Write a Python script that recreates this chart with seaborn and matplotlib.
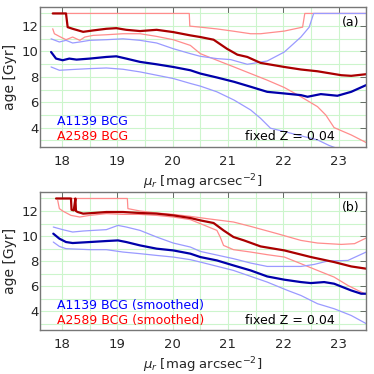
import numpy as np
import pandas as pd
import matplotlib
matplotlib.use("Agg")
import matplotlib.pyplot as plt
import seaborn as sns
from matplotlib.ticker import MultipleLocator

# ---------------- Panel (a) data ----------------
a_red_x = [17.83, 18.07, 18.10, 18.19, 18.38, 18.56, 18.80, 18.98, 19.16, 19.41, 19.71, 20.01, 20.32,
           20.50, 20.74, 20.98, 21.17, 21.35, 21.59, 22.02, 22.32, 22.62, 23.05, 23.23, 23.50]
a_red_y = [13.0, 13.0, 11.92, 11.79, 11.55, 11.66, 11.79, 11.84, 11.71, 11.61, 11.71, 11.53, 11.27,
           11.14, 10.93, 10.22, 9.75, 9.57, 9.10, 8.78, 8.58, 8.44, 8.13, 8.08, 8.21]

a_red_hi_x = [17.83, 20.30, 20.31, 20.50, 20.80, 21.10, 21.41, 21.59, 22.02, 22.35, 22.39, 23.50]
a_red_hi_y = [13.0, 13.0, 12.0, 11.92, 11.78, 11.60, 11.40, 11.40, 11.61, 11.92, 13.0, 13.0]

a_red_lo_x = [17.83, 17.86, 17.95, 18.07, 18.19, 18.32, 18.41, 18.56, 18.80, 19.10, 19.41, 19.71, 20.01,
              20.32, 20.50, 20.80, 21.11, 21.41, 21.71, 22.02, 22.32, 22.62, 22.77, 22.92, 23.23, 23.50]
a_red_lo_y = [11.79, 11.40, 11.19, 10.93, 11.14, 10.88, 11.14, 11.27, 11.32, 11.40, 11.40, 11.19, 10.93,
              10.48, 9.83, 9.31, 8.78, 8.26, 7.74, 7.16, 6.43, 5.65, 4.99, 4.00, 3.42, 2.82]

a_blue_x = [17.80, 17.89, 18.01, 18.13, 18.26, 18.50, 18.80, 18.98, 19.16, 19.41, 19.71, 20.01, 20.32,
            20.50, 20.80, 21.11, 21.41, 21.71, 22.02, 22.32, 22.44, 22.68, 22.98, 23.23, 23.50]
a_blue_y = [9.96, 9.44, 9.31, 9.44, 9.36, 9.44, 9.57, 9.62, 9.44, 9.18, 8.99, 8.78, 8.52,
            8.26, 7.95, 7.61, 7.22, 6.82, 6.69, 6.56, 6.43, 6.64, 6.51, 6.82, 7.35]

a_blue_hi_x = [17.80, 17.95, 18.07, 18.19, 18.32, 18.50, 18.80, 19.10, 19.41, 19.71, 20.01, 20.32, 20.50,
               20.80, 21.05, 21.35, 21.71, 22.02, 22.32, 22.47, 22.55, 23.50]
a_blue_hi_y = [11.0, 10.75, 10.88, 10.67, 10.75, 10.88, 10.93, 11.0, 10.88, 10.67, 10.22, 9.83, 9.62,
               9.44, 9.36, 8.99, 9.25, 9.96, 11.14, 11.92, 13.0, 13.0]

a_blue_lo_x = [17.80, 17.95, 18.19, 18.50, 18.80, 19.10, 19.41, 19.71, 20.01, 20.32, 20.50, 20.80, 21.11,
               21.41, 21.59, 21.77, 22.02, 22.32, 22.62, 22.83, 22.95]
a_blue_lo_y = [8.78, 8.52, 8.58, 8.65, 8.70, 8.60, 8.39, 8.13, 7.87, 7.48, 7.27, 6.82, 6.17,
               5.39, 4.73, 3.95, 3.69, 3.35, 3.03, 2.59, 2.40]

# ---------------- Panel (b) data ----------------
b_red_x = [17.89, 18.16, 18.17, 18.21, 18.24, 18.25, 18.28, 18.38, 18.56, 18.80, 19.10, 19.41, 19.71,
           20.01, 20.32, 20.50, 20.74, 20.92, 21.10, 21.29, 21.59, 22.02, 22.50, 22.92, 23.23, 23.50]
b_red_y = [13.0, 13.0, 12.1, 12.05, 13.0, 12.0, 11.92, 11.79, 11.84, 11.92, 11.92, 11.84, 11.79,
           11.65, 11.44, 11.25, 11.04, 10.45, 9.92, 9.65, 9.17, 8.85, 8.32, 7.92, 7.57, 7.39]

b_red_hi_x = [17.89, 19.18, 19.19, 19.41, 19.71, 20.01, 20.32, 20.62, 21.10, 21.41, 21.89, 22.32,
              22.62, 23.05, 23.29, 23.50]
b_red_hi_y = [13.0, 13.0, 12.19, 12.0, 11.84, 11.73, 11.57, 11.39, 11.12, 10.77, 10.19, 9.65,
              9.44, 9.33, 9.39, 9.84]

b_red_lo_x = [17.92, 17.95, 18.01, 18.16, 18.32, 18.50, 18.80, 19.10, 19.41, 19.71, 20.01, 20.32,
              20.50, 20.80, 20.86, 20.92, 21.10, 21.41, 21.71, 22.02, 22.32, 22.62, 22.92, 23.17, 23.50]
b_red_lo_y = [12.85, 12.19, 12.0, 11.65, 11.52, 11.65, 11.79, 11.73, 11.73, 11.65, 11.52, 11.31,
              10.99, 10.45, 9.92, 9.25, 8.91, 8.72, 8.51, 8.32, 7.79, 7.25, 6.72, 6.05, 5.33]

b_blue_x = [17.84, 17.95, 18.07, 18.19, 18.50, 18.80, 19.01, 19.16, 19.41, 19.71, 20.01, 20.32, 20.50,
            20.80, 21.10, 21.41, 21.71, 22.02, 22.32, 22.50, 22.74, 22.92, 23.23, 23.41, 23.50]
b_blue_y = [10.19, 9.79, 9.52, 9.44, 9.52, 9.60, 9.65, 9.52, 9.25, 8.99, 8.85, 8.59, 8.32,
            8.05, 7.65, 7.25, 6.77, 6.51, 6.32, 6.24, 6.32, 6.19, 5.65, 5.39, 5.39]

b_blue_hi_x = [17.84, 18.01, 18.19, 18.38, 18.56, 18.80, 19.01, 19.16, 19.41, 19.71, 20.01, 20.32,
               20.50, 21.10, 21.41, 21.71, 22.32, 22.56, 22.80, 23.17, 23.50]
b_blue_hi_y = [10.72, 10.51, 10.32, 10.40, 10.45, 10.51, 10.85, 10.72, 10.45, 9.92, 9.44, 9.12,
               8.77, 8.19, 7.84, 7.57, 7.57, 7.73, 8.00, 8.05, 8.72]

b_blue_lo_x = [17.84, 17.95, 18.07, 18.50, 18.80, 19.10, 19.41, 19.71, 20.01, 20.32, 20.50, 21.10,
               21.71, 22.08, 22.32, 22.62, 22.92, 23.23, 23.50]
b_blue_lo_y = [9.52, 9.17, 8.99, 8.91, 8.91, 8.72, 8.59, 8.45, 8.32, 8.11, 7.92, 7.25,
               6.32, 5.65, 5.25, 4.59, 4.19, 3.65, 3.00]

a_labels = ["A1139 BCG", "A2589 BCG"]
b_labels = ["A1139 BCG (smoothed)", "A2589 BCG (smoothed)"]
z_label = "fixed Z = 0.04"
panel_tags = ["(a)", "(b)"]

DARK_RED = "#aa0000"
DARK_BLUE = "#0000aa"
LIGHT_RED = "#ff8c8c"
LIGHT_BLUE = "#9a9aff"

sns.set_style("white")
plt.rcParams["font.family"] = ["DejaVu Sans"]
plt.rcParams["mathtext.fontset"] = "dejavusans"

fig = plt.figure(figsize=(3.74, 3.74), dpi=100)
ax_a = fig.add_axes([0.107, 0.608, 0.872, 0.373])
ax_b = fig.add_axes([0.107, 0.118, 0.872, 0.368])

FS = 9
TFS = 9.5


def draw(ax, series, labels, tag):
    for (x, y, color, lw) in series:
        df = pd.DataFrame({"x": x, "y": y})
        sns.lineplot(data=df, x="x", y="y", ax=ax, color=color, lw=lw,
                     sort=False, estimator=None)
    ax.set_xlim(17.6, 23.5)
    ax.set_ylim(2.5, 13.5)
    ax.xaxis.set_major_locator(MultipleLocator(1))
    ax.xaxis.set_minor_locator(MultipleLocator(0.5))
    ax.yaxis.set_major_locator(MultipleLocator(2))
    ax.yaxis.set_minor_locator(MultipleLocator(1))
    ax.grid(which="both", color="#ccf5cc", lw=0.8)
    ax.set_axisbelow(True)
    for s in ax.spines.values():
        s.set_color("#777777")
        s.set_linewidth(1.0)
    ax.tick_params(which="major", direction="in", length=4, width=0.6, color="#555555",
                   top=True, right=True, labelsize=TFS)
    ax.tick_params(axis="x", which="major", pad=6)
    ax.tick_params(axis="y", which="major", pad=1)
    ax.tick_params(which="minor", length=0)
    ax.set_xlabel(r"$\mu_r$ [mag arcsec$^{-2}$]", fontsize=9.5, labelpad=3)
    ax.set_ylabel("age [Gyr]", fontsize=10, labelpad=3)
    ax.text(0.052, 0.18, labels[0], color="#0000ff", fontsize=FS, transform=ax.transAxes, va="center")
    ax.text(0.052, 0.07, labels[1], color="#ff0000", fontsize=FS, transform=ax.transAxes, va="center")
    ax.text(0.905, 0.07, z_label, color="black", fontsize=FS, transform=ax.transAxes,
            va="center", ha="right")
    ax.text(0.98, 0.89, tag, color="black", fontsize=FS, transform=ax.transAxes,
            va="center", ha="right")


draw(ax_a, [
    (a_red_hi_x, a_red_hi_y, LIGHT_RED, 0.9),
    (a_red_lo_x, a_red_lo_y, LIGHT_RED, 0.9),
    (a_blue_hi_x, a_blue_hi_y, LIGHT_BLUE, 0.9),
    (a_blue_lo_x, a_blue_lo_y, LIGHT_BLUE, 0.9),
    (a_red_x, a_red_y, DARK_RED, 1.6),
    (a_blue_x, a_blue_y, DARK_BLUE, 1.6),
], a_labels, panel_tags[0])

draw(ax_b, [
    (b_red_hi_x, b_red_hi_y, LIGHT_RED, 0.9),
    (b_red_lo_x, b_red_lo_y, LIGHT_RED, 0.9),
    (b_blue_hi_x, b_blue_hi_y, LIGHT_BLUE, 0.9),
    (b_blue_lo_x, b_blue_lo_y, LIGHT_BLUE, 0.9),
    (b_red_x, b_red_y, DARK_RED, 1.6),
    (b_blue_x, b_blue_y, DARK_BLUE, 1.6),
], b_labels, panel_tags[1])

fig.savefig("out.png", dpi=100)
